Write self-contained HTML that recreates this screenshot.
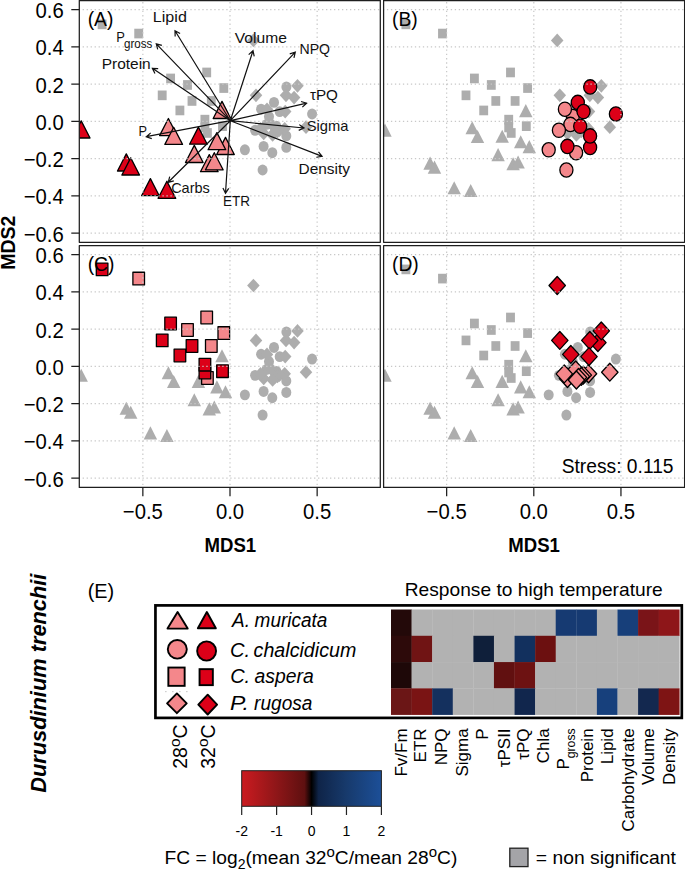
<!DOCTYPE html><html><head><meta charset="utf-8"><style>html,body{margin:0;padding:0;background:#fff;overflow:hidden;width:685px;height:871px;}svg{display:block;}text{font-family:"Liberation Sans",sans-serif;}</style></head><body>
<svg width="685" height="871" viewBox="0 0 685 871">
<defs>
<clipPath id="cA"><rect x="79.30" y="0.50" width="301.00" height="241.80"/></clipPath>
<clipPath id="cB"><rect x="383.60" y="0.50" width="301.00" height="241.80"/></clipPath>
<clipPath id="cC"><rect x="79.30" y="245.60" width="301.00" height="241.80"/></clipPath>
<clipPath id="cD"><rect x="383.60" y="245.60" width="301.00" height="241.80"/></clipPath>
</defs>
<g clip-path="url(#cA)">
<rect x="166.17" y="73.62" width="8.86" height="9.66" fill="#ADADAD"/>
<rect x="202.27" y="67.62" width="8.86" height="9.66" fill="#ADADAD"/>
<rect x="183.07" y="80.12" width="8.86" height="9.66" fill="#ADADAD"/>
<rect x="219.37" y="83.22" width="8.86" height="9.66" fill="#ADADAD"/>
<rect x="157.77" y="90.52" width="8.86" height="9.66" fill="#ADADAD"/>
<rect x="187.57" y="96.12" width="8.86" height="9.66" fill="#ADADAD"/>
<rect x="206.87" y="96.12" width="8.86" height="9.66" fill="#ADADAD"/>
<rect x="175.47" y="105.62" width="8.86" height="9.66" fill="#ADADAD"/>
<rect x="202.97" y="128.12" width="8.86" height="9.66" fill="#ADADAD"/>
<rect x="200.47" y="122.62" width="8.86" height="9.66" fill="#ADADAD"/>
<rect x="200.47" y="114.82" width="8.86" height="9.66" fill="#ADADAD"/>
<rect x="218.07" y="121.32" width="8.86" height="9.66" fill="#ADADAD"/>
<rect x="134.27" y="28.72" width="8.86" height="9.66" fill="#ADADAD"/>
<rect x="97.67" y="19.52" width="8.86" height="9.66" fill="#ADADAD"/>
<ellipse cx="269.00" cy="116.50" rx="5.00" ry="5.45" fill="#ADADAD"/>
<ellipse cx="286.40" cy="86.90" rx="5.00" ry="5.45" fill="#ADADAD"/>
<ellipse cx="274.00" cy="102.40" rx="5.00" ry="5.45" fill="#ADADAD"/>
<ellipse cx="261.10" cy="109.20" rx="5.00" ry="5.45" fill="#ADADAD"/>
<ellipse cx="279.70" cy="111.60" rx="5.00" ry="5.45" fill="#ADADAD"/>
<ellipse cx="266.60" cy="124.40" rx="5.00" ry="5.45" fill="#ADADAD"/>
<ellipse cx="276.40" cy="126.30" rx="5.00" ry="5.45" fill="#ADADAD"/>
<ellipse cx="255.10" cy="130.30" rx="5.00" ry="5.45" fill="#ADADAD"/>
<ellipse cx="286.30" cy="147.40" rx="5.00" ry="5.45" fill="#ADADAD"/>
<ellipse cx="286.30" cy="135.90" rx="5.00" ry="5.45" fill="#ADADAD"/>
<ellipse cx="312.10" cy="114.00" rx="5.00" ry="5.45" fill="#ADADAD"/>
<ellipse cx="263.60" cy="146.40" rx="5.00" ry="5.45" fill="#ADADAD"/>
<ellipse cx="272.30" cy="152.70" rx="5.00" ry="5.45" fill="#ADADAD"/>
<ellipse cx="244.90" cy="149.80" rx="5.00" ry="5.45" fill="#ADADAD"/>
<ellipse cx="262.60" cy="170.00" rx="5.00" ry="5.45" fill="#ADADAD"/>
<path d="M294.10 90.72L300.37 97.55L294.10 104.38L287.83 97.55Z" fill="#ADADAD"/>
<path d="M253.40 33.62L259.67 40.45L253.40 47.28L247.13 40.45Z" fill="#ADADAD"/>
<path d="M297.50 79.02L303.77 85.85L297.50 92.68L291.23 85.85Z" fill="#ADADAD"/>
<path d="M286.00 88.52L292.27 95.35L286.00 102.18L279.73 95.35Z" fill="#ADADAD"/>
<path d="M256.00 88.52L262.27 95.35L256.00 102.18L249.73 95.35Z" fill="#ADADAD"/>
<path d="M267.00 102.52L273.27 109.35L267.00 116.18L260.73 109.35Z" fill="#ADADAD"/>
<path d="M285.20 104.72L291.47 111.55L285.20 118.38L278.93 111.55Z" fill="#ADADAD"/>
<path d="M271.90 118.02L278.17 124.85L271.90 131.68L265.63 124.85Z" fill="#ADADAD"/>
<path d="M284.70 121.92L290.97 128.75L284.70 135.58L278.43 128.75Z" fill="#ADADAD"/>
<path d="M263.70 126.62L269.97 133.45L263.70 140.28L257.43 133.45Z" fill="#ADADAD"/>
<path d="M260.50 122.02L266.77 128.85L260.50 135.68L254.23 128.85Z" fill="#ADADAD"/>
<path d="M279.50 123.22L285.77 130.05L279.50 136.88L273.23 130.05Z" fill="#ADADAD"/>
<path d="M277.50 124.52L283.77 131.35L277.50 138.18L271.23 131.35Z" fill="#ADADAD"/>
<path d="M274.70 125.52L280.97 132.35L274.70 139.18L268.43 132.35Z" fill="#ADADAD"/>
<path d="M272.60 128.12L278.87 134.95L272.60 141.78L266.33 134.95Z" fill="#ADADAD"/>
<path d="M306.00 120.32L312.27 127.15L306.00 133.98L299.73 127.15Z" fill="#ADADAD"/>
<path d="M168.40 118.49L177.22 135.60L159.58 135.60Z" fill="#F4878B" stroke="#000" stroke-width="1.3" stroke-linejoin="round"/>
<path d="M173.70 127.29L182.52 144.40L164.88 144.40Z" fill="#F4878B" stroke="#000" stroke-width="1.3" stroke-linejoin="round"/>
<path d="M225.50 137.39L234.32 154.50L216.68 154.50Z" fill="#F4878B" stroke="#000" stroke-width="1.3" stroke-linejoin="round"/>
<path d="M216.90 132.59L225.72 149.70L208.08 149.70Z" fill="#F4878B" stroke="#000" stroke-width="1.3" stroke-linejoin="round"/>
<path d="M194.30 145.39L203.12 162.50L185.48 162.50Z" fill="#F4878B" stroke="#000" stroke-width="1.3" stroke-linejoin="round"/>
<path d="M209.30 154.59L218.12 171.70L200.48 171.70Z" fill="#F4878B" stroke="#000" stroke-width="1.3" stroke-linejoin="round"/>
<path d="M214.30 152.69L223.12 169.80L205.48 169.80Z" fill="#F4878B" stroke="#000" stroke-width="1.3" stroke-linejoin="round"/>
<path d="M222.00 101.39L230.82 118.50L213.18 118.50Z" fill="#F4878B" stroke="#000" stroke-width="1.3" stroke-linejoin="round"/>
<path d="M81.20 120.89L90.02 138.00L72.38 138.00Z" fill="#DC0018" stroke="#000" stroke-width="1.3" stroke-linejoin="round"/>
<path d="M126.30 153.89L135.12 171.00L117.48 171.00Z" fill="#DC0018" stroke="#000" stroke-width="1.3" stroke-linejoin="round"/>
<path d="M130.70 157.89L139.52 175.00L121.88 175.00Z" fill="#DC0018" stroke="#000" stroke-width="1.3" stroke-linejoin="round"/>
<path d="M150.40 178.59L159.22 195.70L141.58 195.70Z" fill="#DC0018" stroke="#000" stroke-width="1.3" stroke-linejoin="round"/>
<path d="M166.90 181.19L175.72 198.30L158.08 198.30Z" fill="#DC0018" stroke="#000" stroke-width="1.3" stroke-linejoin="round"/>
<path d="M198.40 127.09L207.22 144.20L189.58 144.20Z" fill="#DC0018" stroke="#000" stroke-width="1.3" stroke-linejoin="round"/>
<path d="M79.30 233.17H380.30M79.30 195.90H380.30M79.30 158.63H380.30M79.30 121.36H380.30M79.30 84.09H380.30M79.30 46.82H380.30M79.30 9.55H380.30" stroke="#C8C8C8" stroke-width="1.2" stroke-dasharray="1.3 2.69" stroke-dashoffset="0.65" fill="none"/>
<path d="M142.85 242.30V0.50M230.00 242.30V0.50M317.15 242.30V0.50" stroke="#C8C8C8" stroke-width="1.2" stroke-dasharray="1.4 2.9" stroke-dashoffset="2.0" fill="none"/>
</g>
<rect x="79.30" y="0.50" width="301.00" height="241.80" fill="none" stroke="#1e1e1e" stroke-width="1.25" stroke-linejoin="round"/>
<g clip-path="url(#cB)">
<rect x="469.97" y="73.62" width="8.86" height="9.66" fill="#ADADAD"/>
<rect x="506.07" y="67.62" width="8.86" height="9.66" fill="#ADADAD"/>
<rect x="486.87" y="80.12" width="8.86" height="9.66" fill="#ADADAD"/>
<rect x="523.17" y="83.22" width="8.86" height="9.66" fill="#ADADAD"/>
<rect x="461.57" y="90.52" width="8.86" height="9.66" fill="#ADADAD"/>
<rect x="491.37" y="96.12" width="8.86" height="9.66" fill="#ADADAD"/>
<rect x="510.67" y="96.12" width="8.86" height="9.66" fill="#ADADAD"/>
<rect x="479.27" y="105.62" width="8.86" height="9.66" fill="#ADADAD"/>
<rect x="506.77" y="128.12" width="8.86" height="9.66" fill="#ADADAD"/>
<rect x="504.27" y="122.62" width="8.86" height="9.66" fill="#ADADAD"/>
<rect x="504.27" y="114.82" width="8.86" height="9.66" fill="#ADADAD"/>
<rect x="521.87" y="121.32" width="8.86" height="9.66" fill="#ADADAD"/>
<rect x="438.07" y="28.72" width="8.86" height="9.66" fill="#ADADAD"/>
<rect x="401.47" y="19.52" width="8.86" height="9.66" fill="#ADADAD"/>
<path d="M597.90 90.72L604.17 97.55L597.90 104.38L591.63 97.55Z" fill="#ADADAD"/>
<path d="M557.20 33.62L563.47 40.45L557.20 47.28L550.93 40.45Z" fill="#ADADAD"/>
<path d="M601.30 79.02L607.57 85.85L601.30 92.68L595.03 85.85Z" fill="#ADADAD"/>
<path d="M589.80 88.52L596.07 95.35L589.80 102.18L583.53 95.35Z" fill="#ADADAD"/>
<path d="M559.80 88.52L566.07 95.35L559.80 102.18L553.53 95.35Z" fill="#ADADAD"/>
<path d="M570.80 102.52L577.07 109.35L570.80 116.18L564.53 109.35Z" fill="#ADADAD"/>
<path d="M589.00 104.72L595.27 111.55L589.00 118.38L582.73 111.55Z" fill="#ADADAD"/>
<path d="M575.70 118.02L581.97 124.85L575.70 131.68L569.43 124.85Z" fill="#ADADAD"/>
<path d="M588.50 121.92L594.77 128.75L588.50 135.58L582.23 128.75Z" fill="#ADADAD"/>
<path d="M567.50 126.62L573.77 133.45L567.50 140.28L561.23 133.45Z" fill="#ADADAD"/>
<path d="M564.30 122.02L570.57 128.85L564.30 135.68L558.03 128.85Z" fill="#ADADAD"/>
<path d="M583.30 123.22L589.57 130.05L583.30 136.88L577.03 130.05Z" fill="#ADADAD"/>
<path d="M581.30 124.52L587.57 131.35L581.30 138.18L575.03 131.35Z" fill="#ADADAD"/>
<path d="M578.50 125.52L584.77 132.35L578.50 139.18L572.23 132.35Z" fill="#ADADAD"/>
<path d="M576.40 128.12L582.67 134.95L576.40 141.78L570.13 134.95Z" fill="#ADADAD"/>
<path d="M609.80 120.32L616.07 127.15L609.80 133.98L603.53 127.15Z" fill="#ADADAD"/>
<path d="M385.00 123.59L391.73 136.65L378.27 136.65Z" fill="#ADADAD"/>
<path d="M430.10 156.59L436.83 169.65L423.37 169.65Z" fill="#ADADAD"/>
<path d="M434.50 160.59L441.23 173.65L427.77 173.65Z" fill="#ADADAD"/>
<path d="M454.20 181.29L460.93 194.35L447.47 194.35Z" fill="#ADADAD"/>
<path d="M470.70 183.89L477.43 196.95L463.97 196.95Z" fill="#ADADAD"/>
<path d="M472.20 121.19L478.93 134.25L465.47 134.25Z" fill="#ADADAD"/>
<path d="M477.50 129.99L484.23 143.05L470.77 143.05Z" fill="#ADADAD"/>
<path d="M502.20 129.79L508.93 142.85L495.47 142.85Z" fill="#ADADAD"/>
<path d="M529.30 140.09L536.03 153.15L522.57 153.15Z" fill="#ADADAD"/>
<path d="M520.70 135.29L527.43 148.35L513.97 148.35Z" fill="#ADADAD"/>
<path d="M498.10 148.09L504.83 161.15L491.37 161.15Z" fill="#ADADAD"/>
<path d="M513.10 157.29L519.83 170.35L506.37 170.35Z" fill="#ADADAD"/>
<path d="M518.10 155.39L524.83 168.45L511.37 168.45Z" fill="#ADADAD"/>
<path d="M525.80 104.09L532.53 117.15L519.07 117.15Z" fill="#ADADAD"/>
<ellipse cx="572.80" cy="116.50" rx="6.55" ry="7.14" fill="#F4878B" stroke="#000" stroke-width="1.3" stroke-linejoin="round"/>
<ellipse cx="564.90" cy="109.20" rx="6.55" ry="7.14" fill="#F4878B" stroke="#000" stroke-width="1.3" stroke-linejoin="round"/>
<ellipse cx="570.40" cy="124.40" rx="6.55" ry="7.14" fill="#F4878B" stroke="#000" stroke-width="1.3" stroke-linejoin="round"/>
<ellipse cx="558.90" cy="130.30" rx="6.55" ry="7.14" fill="#F4878B" stroke="#000" stroke-width="1.3" stroke-linejoin="round"/>
<ellipse cx="576.10" cy="152.70" rx="6.55" ry="7.14" fill="#F4878B" stroke="#000" stroke-width="1.3" stroke-linejoin="round"/>
<ellipse cx="548.70" cy="149.80" rx="6.55" ry="7.14" fill="#F4878B" stroke="#000" stroke-width="1.3" stroke-linejoin="round"/>
<ellipse cx="566.40" cy="170.00" rx="6.55" ry="7.14" fill="#F4878B" stroke="#000" stroke-width="1.3" stroke-linejoin="round"/>
<ellipse cx="590.20" cy="86.90" rx="6.55" ry="7.14" fill="#DC0018" stroke="#000" stroke-width="1.3" stroke-linejoin="round"/>
<ellipse cx="577.80" cy="102.40" rx="6.55" ry="7.14" fill="#DC0018" stroke="#000" stroke-width="1.3" stroke-linejoin="round"/>
<ellipse cx="583.50" cy="111.60" rx="6.55" ry="7.14" fill="#DC0018" stroke="#000" stroke-width="1.3" stroke-linejoin="round"/>
<ellipse cx="580.20" cy="126.30" rx="6.55" ry="7.14" fill="#DC0018" stroke="#000" stroke-width="1.3" stroke-linejoin="round"/>
<ellipse cx="590.10" cy="147.40" rx="6.55" ry="7.14" fill="#DC0018" stroke="#000" stroke-width="1.3" stroke-linejoin="round"/>
<ellipse cx="590.10" cy="135.90" rx="6.55" ry="7.14" fill="#DC0018" stroke="#000" stroke-width="1.3" stroke-linejoin="round"/>
<ellipse cx="615.90" cy="114.00" rx="6.55" ry="7.14" fill="#DC0018" stroke="#000" stroke-width="1.3" stroke-linejoin="round"/>
<ellipse cx="567.40" cy="146.40" rx="6.55" ry="7.14" fill="#DC0018" stroke="#000" stroke-width="1.3" stroke-linejoin="round"/>
<path d="M383.60 233.17H684.60M383.60 195.90H684.60M383.60 158.63H684.60M383.60 121.36H684.60M383.60 84.09H684.60M383.60 46.82H684.60M383.60 9.55H684.60" stroke="#C8C8C8" stroke-width="1.2" stroke-dasharray="1.3 2.69" stroke-dashoffset="0.65" fill="none"/>
<path d="M446.65 242.30V0.50M533.80 242.30V0.50M620.95 242.30V0.50" stroke="#C8C8C8" stroke-width="1.2" stroke-dasharray="1.4 2.9" stroke-dashoffset="2.0" fill="none"/>
</g>
<rect x="383.60" y="0.50" width="301.00" height="241.80" fill="none" stroke="#1e1e1e" stroke-width="1.25" stroke-linejoin="round"/>
<g clip-path="url(#cC)">
<ellipse cx="269.00" cy="361.55" rx="5.00" ry="5.45" fill="#ADADAD"/>
<ellipse cx="286.40" cy="331.95" rx="5.00" ry="5.45" fill="#ADADAD"/>
<ellipse cx="274.00" cy="347.45" rx="5.00" ry="5.45" fill="#ADADAD"/>
<ellipse cx="261.10" cy="354.25" rx="5.00" ry="5.45" fill="#ADADAD"/>
<ellipse cx="279.70" cy="356.65" rx="5.00" ry="5.45" fill="#ADADAD"/>
<ellipse cx="266.60" cy="369.45" rx="5.00" ry="5.45" fill="#ADADAD"/>
<ellipse cx="276.40" cy="371.35" rx="5.00" ry="5.45" fill="#ADADAD"/>
<ellipse cx="255.10" cy="375.35" rx="5.00" ry="5.45" fill="#ADADAD"/>
<ellipse cx="286.30" cy="392.45" rx="5.00" ry="5.45" fill="#ADADAD"/>
<ellipse cx="286.30" cy="380.95" rx="5.00" ry="5.45" fill="#ADADAD"/>
<ellipse cx="312.10" cy="359.05" rx="5.00" ry="5.45" fill="#ADADAD"/>
<ellipse cx="263.60" cy="391.45" rx="5.00" ry="5.45" fill="#ADADAD"/>
<ellipse cx="272.30" cy="397.75" rx="5.00" ry="5.45" fill="#ADADAD"/>
<ellipse cx="244.90" cy="394.85" rx="5.00" ry="5.45" fill="#ADADAD"/>
<ellipse cx="262.60" cy="415.05" rx="5.00" ry="5.45" fill="#ADADAD"/>
<path d="M294.10 335.77L300.37 342.60L294.10 349.43L287.83 342.60Z" fill="#ADADAD"/>
<path d="M253.40 278.67L259.67 285.50L253.40 292.33L247.13 285.50Z" fill="#ADADAD"/>
<path d="M297.50 324.07L303.77 330.90L297.50 337.73L291.23 330.90Z" fill="#ADADAD"/>
<path d="M286.00 333.57L292.27 340.40L286.00 347.23L279.73 340.40Z" fill="#ADADAD"/>
<path d="M256.00 333.57L262.27 340.40L256.00 347.23L249.73 340.40Z" fill="#ADADAD"/>
<path d="M267.00 347.57L273.27 354.40L267.00 361.23L260.73 354.40Z" fill="#ADADAD"/>
<path d="M285.20 349.77L291.47 356.60L285.20 363.43L278.93 356.60Z" fill="#ADADAD"/>
<path d="M271.90 363.07L278.17 369.90L271.90 376.73L265.63 369.90Z" fill="#ADADAD"/>
<path d="M284.70 366.97L290.97 373.80L284.70 380.63L278.43 373.80Z" fill="#ADADAD"/>
<path d="M263.70 371.67L269.97 378.50L263.70 385.33L257.43 378.50Z" fill="#ADADAD"/>
<path d="M260.50 367.07L266.77 373.90L260.50 380.73L254.23 373.90Z" fill="#ADADAD"/>
<path d="M279.50 368.27L285.77 375.10L279.50 381.93L273.23 375.10Z" fill="#ADADAD"/>
<path d="M277.50 369.57L283.77 376.40L277.50 383.23L271.23 376.40Z" fill="#ADADAD"/>
<path d="M274.70 370.57L280.97 377.40L274.70 384.23L268.43 377.40Z" fill="#ADADAD"/>
<path d="M272.60 373.17L278.87 380.00L272.60 386.83L266.33 380.00Z" fill="#ADADAD"/>
<path d="M306.00 365.37L312.27 372.20L306.00 379.03L299.73 372.20Z" fill="#ADADAD"/>
<path d="M81.20 368.64L87.93 381.70L74.47 381.70Z" fill="#ADADAD"/>
<path d="M126.30 401.64L133.03 414.70L119.57 414.70Z" fill="#ADADAD"/>
<path d="M130.70 405.64L137.43 418.70L123.97 418.70Z" fill="#ADADAD"/>
<path d="M150.40 426.34L157.13 439.40L143.67 439.40Z" fill="#ADADAD"/>
<path d="M166.90 428.94L173.63 442.00L160.17 442.00Z" fill="#ADADAD"/>
<path d="M168.40 366.24L175.13 379.30L161.67 379.30Z" fill="#ADADAD"/>
<path d="M173.70 375.04L180.43 388.10L166.97 388.10Z" fill="#ADADAD"/>
<path d="M198.40 374.84L205.13 387.90L191.67 387.90Z" fill="#ADADAD"/>
<path d="M225.50 385.14L232.23 398.20L218.77 398.20Z" fill="#ADADAD"/>
<path d="M216.90 380.34L223.63 393.40L210.17 393.40Z" fill="#ADADAD"/>
<path d="M194.30 393.14L201.03 406.20L187.57 406.20Z" fill="#ADADAD"/>
<path d="M209.30 402.34L216.03 415.40L202.57 415.40Z" fill="#ADADAD"/>
<path d="M214.30 400.44L221.03 413.50L207.57 413.50Z" fill="#ADADAD"/>
<path d="M222.00 349.14L228.73 362.20L215.27 362.20Z" fill="#ADADAD"/>
<rect x="200.90" y="311.17" width="11.61" height="12.65" fill="#F4878B" stroke="#000" stroke-width="1.3" stroke-linejoin="round"/>
<rect x="181.70" y="323.67" width="11.61" height="12.65" fill="#F4878B" stroke="#000" stroke-width="1.3" stroke-linejoin="round"/>
<rect x="218.00" y="326.77" width="11.61" height="12.65" fill="#F4878B" stroke="#000" stroke-width="1.3" stroke-linejoin="round"/>
<rect x="205.50" y="339.67" width="11.61" height="12.65" fill="#F4878B" stroke="#000" stroke-width="1.3" stroke-linejoin="round"/>
<rect x="201.60" y="371.67" width="11.61" height="12.65" fill="#F4878B" stroke="#000" stroke-width="1.3" stroke-linejoin="round"/>
<rect x="132.90" y="272.27" width="11.61" height="12.65" fill="#F4878B" stroke="#000" stroke-width="1.3" stroke-linejoin="round"/>
<rect x="164.80" y="317.17" width="11.61" height="12.65" fill="#DC0018" stroke="#000" stroke-width="1.3" stroke-linejoin="round"/>
<rect x="156.40" y="334.07" width="11.61" height="12.65" fill="#DC0018" stroke="#000" stroke-width="1.3" stroke-linejoin="round"/>
<rect x="186.20" y="339.67" width="11.61" height="12.65" fill="#DC0018" stroke="#000" stroke-width="1.3" stroke-linejoin="round"/>
<rect x="174.10" y="349.17" width="11.61" height="12.65" fill="#DC0018" stroke="#000" stroke-width="1.3" stroke-linejoin="round"/>
<rect x="199.10" y="366.17" width="11.61" height="12.65" fill="#DC0018" stroke="#000" stroke-width="1.3" stroke-linejoin="round"/>
<rect x="199.10" y="358.37" width="11.61" height="12.65" fill="#DC0018" stroke="#000" stroke-width="1.3" stroke-linejoin="round"/>
<rect x="216.70" y="364.87" width="11.61" height="12.65" fill="#DC0018" stroke="#000" stroke-width="1.3" stroke-linejoin="round"/>
<rect x="96.30" y="263.07" width="11.61" height="12.65" fill="#DC0018" stroke="#000" stroke-width="1.3" stroke-linejoin="round"/>
<path d="M79.30 478.22H380.30M79.30 440.95H380.30M79.30 403.68H380.30M79.30 366.41H380.30M79.30 329.14H380.30M79.30 291.87H380.30M79.30 254.60H380.30" stroke="#C8C8C8" stroke-width="1.2" stroke-dasharray="1.3 2.69" stroke-dashoffset="0.65" fill="none"/>
<path d="M142.85 487.40V245.60M230.00 487.40V245.60M317.15 487.40V245.60" stroke="#C8C8C8" stroke-width="1.2" stroke-dasharray="1.4 2.9" stroke-dashoffset="2.0" fill="none"/>
</g>
<rect x="79.30" y="245.60" width="301.00" height="241.80" fill="none" stroke="#1e1e1e" stroke-width="1.25" stroke-linejoin="round"/>
<g clip-path="url(#cD)">
<rect x="469.97" y="318.67" width="8.86" height="9.66" fill="#ADADAD"/>
<rect x="506.07" y="312.67" width="8.86" height="9.66" fill="#ADADAD"/>
<rect x="486.87" y="325.17" width="8.86" height="9.66" fill="#ADADAD"/>
<rect x="523.17" y="328.27" width="8.86" height="9.66" fill="#ADADAD"/>
<rect x="461.57" y="335.57" width="8.86" height="9.66" fill="#ADADAD"/>
<rect x="491.37" y="341.17" width="8.86" height="9.66" fill="#ADADAD"/>
<rect x="510.67" y="341.17" width="8.86" height="9.66" fill="#ADADAD"/>
<rect x="479.27" y="350.67" width="8.86" height="9.66" fill="#ADADAD"/>
<rect x="506.77" y="373.17" width="8.86" height="9.66" fill="#ADADAD"/>
<rect x="504.27" y="367.67" width="8.86" height="9.66" fill="#ADADAD"/>
<rect x="504.27" y="359.87" width="8.86" height="9.66" fill="#ADADAD"/>
<rect x="521.87" y="366.37" width="8.86" height="9.66" fill="#ADADAD"/>
<rect x="438.07" y="273.77" width="8.86" height="9.66" fill="#ADADAD"/>
<rect x="401.47" y="264.57" width="8.86" height="9.66" fill="#ADADAD"/>
<ellipse cx="572.80" cy="361.55" rx="5.00" ry="5.45" fill="#ADADAD"/>
<ellipse cx="590.20" cy="331.95" rx="5.00" ry="5.45" fill="#ADADAD"/>
<ellipse cx="577.80" cy="347.45" rx="5.00" ry="5.45" fill="#ADADAD"/>
<ellipse cx="564.90" cy="354.25" rx="5.00" ry="5.45" fill="#ADADAD"/>
<ellipse cx="583.50" cy="356.65" rx="5.00" ry="5.45" fill="#ADADAD"/>
<ellipse cx="570.40" cy="369.45" rx="5.00" ry="5.45" fill="#ADADAD"/>
<ellipse cx="580.20" cy="371.35" rx="5.00" ry="5.45" fill="#ADADAD"/>
<ellipse cx="558.90" cy="375.35" rx="5.00" ry="5.45" fill="#ADADAD"/>
<ellipse cx="590.10" cy="392.45" rx="5.00" ry="5.45" fill="#ADADAD"/>
<ellipse cx="590.10" cy="380.95" rx="5.00" ry="5.45" fill="#ADADAD"/>
<ellipse cx="615.90" cy="359.05" rx="5.00" ry="5.45" fill="#ADADAD"/>
<ellipse cx="567.40" cy="391.45" rx="5.00" ry="5.45" fill="#ADADAD"/>
<ellipse cx="576.10" cy="397.75" rx="5.00" ry="5.45" fill="#ADADAD"/>
<ellipse cx="548.70" cy="394.85" rx="5.00" ry="5.45" fill="#ADADAD"/>
<ellipse cx="566.40" cy="415.05" rx="5.00" ry="5.45" fill="#ADADAD"/>
<path d="M385.00 368.64L391.73 381.70L378.27 381.70Z" fill="#ADADAD"/>
<path d="M430.10 401.64L436.83 414.70L423.37 414.70Z" fill="#ADADAD"/>
<path d="M434.50 405.64L441.23 418.70L427.77 418.70Z" fill="#ADADAD"/>
<path d="M454.20 426.34L460.93 439.40L447.47 439.40Z" fill="#ADADAD"/>
<path d="M470.70 428.94L477.43 442.00L463.97 442.00Z" fill="#ADADAD"/>
<path d="M472.20 366.24L478.93 379.30L465.47 379.30Z" fill="#ADADAD"/>
<path d="M477.50 375.04L484.23 388.10L470.77 388.10Z" fill="#ADADAD"/>
<path d="M502.20 374.84L508.93 387.90L495.47 387.90Z" fill="#ADADAD"/>
<path d="M529.30 385.14L536.03 398.20L522.57 398.20Z" fill="#ADADAD"/>
<path d="M520.70 380.34L527.43 393.40L513.97 393.40Z" fill="#ADADAD"/>
<path d="M498.10 393.14L504.83 406.20L491.37 406.20Z" fill="#ADADAD"/>
<path d="M513.10 402.34L519.83 415.40L506.37 415.40Z" fill="#ADADAD"/>
<path d="M518.10 400.44L524.83 413.50L511.37 413.50Z" fill="#ADADAD"/>
<path d="M525.80 349.14L532.53 362.20L519.07 362.20Z" fill="#ADADAD"/>
<path d="M575.70 360.95L583.91 369.90L575.70 378.85L567.49 369.90Z" fill="#F4878B" stroke="#000" stroke-width="1.3" stroke-linejoin="round"/>
<path d="M588.50 364.85L596.71 373.80L588.50 382.75L580.29 373.80Z" fill="#F4878B" stroke="#000" stroke-width="1.3" stroke-linejoin="round"/>
<path d="M567.50 369.55L575.71 378.50L567.50 387.45L559.29 378.50Z" fill="#F4878B" stroke="#000" stroke-width="1.3" stroke-linejoin="round"/>
<path d="M564.30 364.95L572.51 373.90L564.30 382.85L556.09 373.90Z" fill="#F4878B" stroke="#000" stroke-width="1.3" stroke-linejoin="round"/>
<path d="M583.30 366.15L591.51 375.10L583.30 384.05L575.09 375.10Z" fill="#F4878B" stroke="#000" stroke-width="1.3" stroke-linejoin="round"/>
<path d="M581.30 367.45L589.51 376.40L581.30 385.35L573.09 376.40Z" fill="#F4878B" stroke="#000" stroke-width="1.3" stroke-linejoin="round"/>
<path d="M578.50 368.45L586.71 377.40L578.50 386.35L570.29 377.40Z" fill="#F4878B" stroke="#000" stroke-width="1.3" stroke-linejoin="round"/>
<path d="M576.40 371.05L584.61 380.00L576.40 388.95L568.19 380.00Z" fill="#F4878B" stroke="#000" stroke-width="1.3" stroke-linejoin="round"/>
<path d="M609.80 363.25L618.01 372.20L609.80 381.15L601.59 372.20Z" fill="#F4878B" stroke="#000" stroke-width="1.3" stroke-linejoin="round"/>
<path d="M597.90 333.65L606.11 342.60L597.90 351.55L589.69 342.60Z" fill="#DC0018" stroke="#000" stroke-width="1.3" stroke-linejoin="round"/>
<path d="M557.20 276.55L565.41 285.50L557.20 294.45L548.99 285.50Z" fill="#DC0018" stroke="#000" stroke-width="1.3" stroke-linejoin="round"/>
<path d="M601.30 321.95L609.51 330.90L601.30 339.85L593.09 330.90Z" fill="#DC0018" stroke="#000" stroke-width="1.3" stroke-linejoin="round"/>
<path d="M589.80 331.45L598.01 340.40L589.80 349.35L581.59 340.40Z" fill="#DC0018" stroke="#000" stroke-width="1.3" stroke-linejoin="round"/>
<path d="M559.80 331.45L568.01 340.40L559.80 349.35L551.59 340.40Z" fill="#DC0018" stroke="#000" stroke-width="1.3" stroke-linejoin="round"/>
<path d="M570.80 345.45L579.01 354.40L570.80 363.35L562.59 354.40Z" fill="#DC0018" stroke="#000" stroke-width="1.3" stroke-linejoin="round"/>
<path d="M589.00 347.65L597.21 356.60L589.00 365.55L580.79 356.60Z" fill="#DC0018" stroke="#000" stroke-width="1.3" stroke-linejoin="round"/>
<path d="M383.60 478.22H684.60M383.60 440.95H684.60M383.60 403.68H684.60M383.60 366.41H684.60M383.60 329.14H684.60M383.60 291.87H684.60M383.60 254.60H684.60" stroke="#C8C8C8" stroke-width="1.2" stroke-dasharray="1.3 2.69" stroke-dashoffset="0.65" fill="none"/>
<path d="M446.65 487.40V245.60M533.80 487.40V245.60M620.95 487.40V245.60" stroke="#C8C8C8" stroke-width="1.2" stroke-dasharray="1.4 2.9" stroke-dashoffset="2.0" fill="none"/>
</g>
<rect x="383.60" y="245.60" width="301.00" height="241.80" fill="none" stroke="#1e1e1e" stroke-width="1.25" stroke-linejoin="round"/>
<path d="M230.30 120.70L175.00 30.70M180.10 33.46L175.00 30.70L175.16 36.50M230.30 120.70L156.30 43.80M161.87 45.41L156.30 43.80L157.69 49.43M230.30 120.70L152.40 68.30M158.19 68.70L152.40 68.30L154.95 73.51M230.30 120.70L253.00 50.70M254.21 56.37L253.00 50.70L248.69 54.58M230.30 120.70L295.30 52.20M293.95 57.84L295.30 52.20L289.74 53.85M230.30 120.70L306.60 103.20M302.35 107.15L306.60 103.20L301.06 101.50M230.30 120.70L304.00 128.00M298.72 130.39L304.00 128.00L299.29 124.62M230.30 120.70L322.10 156.40M316.37 157.28L322.10 156.40L318.47 151.88M230.30 120.70L225.50 193.20M222.94 188.00L225.50 193.20L228.73 188.38M230.30 120.70L168.20 182.30M169.72 176.70L168.20 182.30L173.81 180.82M230.30 120.70L146.30 136.70M150.69 132.91L146.30 136.70L151.78 138.61" stroke="#111" stroke-width="1.2" fill="none" stroke-linejoin="miter"/>
<text x="152.83" y="21.8" font-size="15" textLength="34.03" lengthAdjust="spacingAndGlyphs" fill="#111">Lipid</text>
<text x="116.24" y="42.4" font-size="15" textLength="8.64" lengthAdjust="spacingAndGlyphs" fill="#111">P</text>
<text x="124.06" y="47.9" font-size="12.3" textLength="28.31" lengthAdjust="spacingAndGlyphs" fill="#111">gross</text>
<text x="101.67" y="69.1" font-size="15" textLength="49.08" lengthAdjust="spacingAndGlyphs" fill="#111">Protein</text>
<text x="234.80" y="42.6" font-size="15" textLength="52.15" lengthAdjust="spacingAndGlyphs" fill="#111">Volume</text>
<text x="299.56" y="53.5" font-size="15" textLength="30.52" lengthAdjust="spacingAndGlyphs" fill="#111">NPQ</text>
<text x="309.90" y="99.9" font-size="15" textLength="28.02" lengthAdjust="spacingAndGlyphs" fill="#111">τPQ</text>
<text x="306.72" y="131.1" font-size="15" textLength="41.72" lengthAdjust="spacingAndGlyphs" fill="#111">Sigma</text>
<text x="298.57" y="173.8" font-size="15" textLength="51.46" lengthAdjust="spacingAndGlyphs" fill="#111">Density</text>
<text x="223.10" y="205.7" font-size="15" textLength="27.00" lengthAdjust="spacingAndGlyphs" fill="#111">ETR</text>
<text x="171.13" y="192.8" font-size="15" textLength="38.68" lengthAdjust="spacingAndGlyphs" fill="#111">Carbs</text>
<text x="138.45" y="135.8" font-size="15" textLength="8.51" lengthAdjust="spacingAndGlyphs" fill="#111">P</text>
<text transform="translate(87.70 25.80) scale(1 1.06)" font-size="19.3" fill="#000">(A)</text>
<text transform="translate(392.00 25.80) scale(1 1.06)" font-size="19.3" fill="#000">(B)</text>
<text transform="translate(87.70 270.90) scale(1 1.06)" font-size="19.3" fill="#000">(C)</text>
<text transform="translate(392.00 270.90) scale(1 1.06)" font-size="19.3" fill="#000">(D)</text>
<text transform="translate(561.71 472.8) scale(1 1.05)" font-size="19.5" textLength="111.83" lengthAdjust="spacingAndGlyphs" fill="#000">Stress: 0.115</text>
<text transform="translate(63.7 241.62) scale(1 1.08)" font-size="20.3" text-anchor="end" fill="#000">−0.6</text>
<text transform="translate(63.7 204.35) scale(1 1.08)" font-size="20.3" text-anchor="end" fill="#000">−0.4</text>
<text transform="translate(63.7 167.08) scale(1 1.08)" font-size="20.3" text-anchor="end" fill="#000">−0.2</text>
<text transform="translate(63.7 129.81) scale(1 1.08)" font-size="20.3" text-anchor="end" fill="#000">0.0</text>
<text transform="translate(63.7 92.54) scale(1 1.08)" font-size="20.3" text-anchor="end" fill="#000">0.2</text>
<text transform="translate(63.7 55.27) scale(1 1.08)" font-size="20.3" text-anchor="end" fill="#000">0.4</text>
<text transform="translate(63.7 18.00) scale(1 1.08)" font-size="20.3" text-anchor="end" fill="#000">0.6</text>
<text transform="translate(63.7 486.67) scale(1 1.08)" font-size="20.3" text-anchor="end" fill="#000">−0.6</text>
<text transform="translate(63.7 449.40) scale(1 1.08)" font-size="20.3" text-anchor="end" fill="#000">−0.4</text>
<text transform="translate(63.7 412.13) scale(1 1.08)" font-size="20.3" text-anchor="end" fill="#000">−0.2</text>
<text transform="translate(63.7 374.86) scale(1 1.08)" font-size="20.3" text-anchor="end" fill="#000">0.0</text>
<text transform="translate(63.7 337.59) scale(1 1.08)" font-size="20.3" text-anchor="end" fill="#000">0.2</text>
<text transform="translate(63.7 300.32) scale(1 1.08)" font-size="20.3" text-anchor="end" fill="#000">0.4</text>
<text transform="translate(63.7 263.05) scale(1 1.08)" font-size="20.3" text-anchor="end" fill="#000">0.6</text>
<text transform="translate(142.85 518.75) scale(1 1.08)" font-size="20.3" text-anchor="middle" fill="#000">−0.5</text>
<text transform="translate(230.00 518.75) scale(1 1.08)" font-size="20.3" text-anchor="middle" fill="#000">0.0</text>
<text transform="translate(317.15 518.75) scale(1 1.08)" font-size="20.3" text-anchor="middle" fill="#000">0.5</text>
<text transform="translate(446.65 518.75) scale(1 1.08)" font-size="20.3" text-anchor="middle" fill="#000">−0.5</text>
<text transform="translate(533.80 518.75) scale(1 1.08)" font-size="20.3" text-anchor="middle" fill="#000">0.0</text>
<text transform="translate(620.95 518.75) scale(1 1.08)" font-size="20.3" text-anchor="middle" fill="#000">0.5</text>
<path d="M71.3 233.17H79.3M71.3 195.90H79.3M71.3 158.63H79.3M71.3 121.36H79.3M71.3 84.09H79.3M71.3 46.82H79.3M71.3 9.55H79.3M71.3 478.22H79.3M71.3 440.95H79.3M71.3 403.68H79.3M71.3 366.41H79.3M71.3 329.14H79.3M71.3 291.87H79.3M71.3 254.60H79.3M142.85 487.40V496.2M230.00 487.40V496.2M317.15 487.40V496.2M446.65 487.40V496.2M533.80 487.40V496.2M620.95 487.40V496.2" stroke="#1e1e1e" stroke-width="1.25" fill="none"/>
<text transform="translate(230.3 552.05) scale(1 1.08)" font-size="18.6" font-weight="bold" text-anchor="middle">MDS1</text>
<text transform="translate(534.1 552.05) scale(1 1.08)" font-size="18.6" font-weight="bold" text-anchor="middle">MDS1</text>
<text transform="translate(15.2 242.7) rotate(-90)" font-size="19.5" font-weight="bold" text-anchor="middle">MDS2</text>
<text x="87.78" y="598.1" font-size="19.5" textLength="26.43" lengthAdjust="spacingAndGlyphs" fill="#000">(E)</text>
<text transform="translate(46.3 683.2) rotate(-90)" font-size="21.8" font-weight="bold" font-style="italic" text-anchor="middle">Durusdinium trenchii</text>
<text x="404.78" y="596.0" font-size="19" textLength="257.93" lengthAdjust="spacingAndGlyphs" fill="#000">Response to high temperature</text>
<rect x="391.00" y="609.50" width="20.89" height="26.58" fill="#230909"/>
<rect x="411.59" y="609.50" width="20.89" height="26.58" fill="#B2B2B2"/>
<rect x="432.18" y="609.50" width="20.89" height="26.58" fill="#B2B2B2"/>
<rect x="452.77" y="609.50" width="20.89" height="26.58" fill="#B2B2B2"/>
<rect x="473.36" y="609.50" width="20.89" height="26.58" fill="#B2B2B2"/>
<rect x="493.95" y="609.50" width="20.89" height="26.58" fill="#B2B2B2"/>
<rect x="514.54" y="609.50" width="20.89" height="26.58" fill="#B2B2B2"/>
<rect x="535.13" y="609.50" width="20.89" height="26.58" fill="#B2B2B2"/>
<rect x="555.72" y="609.50" width="20.89" height="26.58" fill="#163A72"/>
<rect x="576.31" y="609.50" width="20.89" height="26.58" fill="#163A72"/>
<rect x="596.90" y="609.50" width="20.89" height="26.58" fill="#B2B2B2"/>
<rect x="617.49" y="609.50" width="20.89" height="26.58" fill="#173F7A"/>
<rect x="638.08" y="609.50" width="20.89" height="26.58" fill="#7A1418"/>
<rect x="658.67" y="609.50" width="20.89" height="26.58" fill="#8E1619"/>
<rect x="391.00" y="635.78" width="20.89" height="26.58" fill="#2D0A0A"/>
<rect x="411.59" y="635.78" width="20.89" height="26.58" fill="#701414"/>
<rect x="432.18" y="635.78" width="20.89" height="26.58" fill="#B2B2B2"/>
<rect x="452.77" y="635.78" width="20.89" height="26.58" fill="#B2B2B2"/>
<rect x="473.36" y="635.78" width="20.89" height="26.58" fill="#0F1F3A"/>
<rect x="493.95" y="635.78" width="20.89" height="26.58" fill="#B2B2B2"/>
<rect x="514.54" y="635.78" width="20.89" height="26.58" fill="#12305E"/>
<rect x="535.13" y="635.78" width="20.89" height="26.58" fill="#6C1010"/>
<rect x="555.72" y="635.78" width="20.89" height="26.58" fill="#B2B2B2"/>
<rect x="576.31" y="635.78" width="20.89" height="26.58" fill="#B2B2B2"/>
<rect x="596.90" y="635.78" width="20.89" height="26.58" fill="#B2B2B2"/>
<rect x="617.49" y="635.78" width="20.89" height="26.58" fill="#B2B2B2"/>
<rect x="638.08" y="635.78" width="20.89" height="26.58" fill="#B2B2B2"/>
<rect x="658.67" y="635.78" width="20.89" height="26.58" fill="#B2B2B2"/>
<rect x="391.00" y="662.06" width="20.89" height="26.58" fill="#1E0808"/>
<rect x="411.59" y="662.06" width="20.89" height="26.58" fill="#B2B2B2"/>
<rect x="432.18" y="662.06" width="20.89" height="26.58" fill="#B2B2B2"/>
<rect x="452.77" y="662.06" width="20.89" height="26.58" fill="#B2B2B2"/>
<rect x="473.36" y="662.06" width="20.89" height="26.58" fill="#B2B2B2"/>
<rect x="493.95" y="662.06" width="20.89" height="26.58" fill="#611010"/>
<rect x="514.54" y="662.06" width="20.89" height="26.58" fill="#6D1212"/>
<rect x="535.13" y="662.06" width="20.89" height="26.58" fill="#B2B2B2"/>
<rect x="555.72" y="662.06" width="20.89" height="26.58" fill="#B2B2B2"/>
<rect x="576.31" y="662.06" width="20.89" height="26.58" fill="#B2B2B2"/>
<rect x="596.90" y="662.06" width="20.89" height="26.58" fill="#B2B2B2"/>
<rect x="617.49" y="662.06" width="20.89" height="26.58" fill="#B2B2B2"/>
<rect x="638.08" y="662.06" width="20.89" height="26.58" fill="#B2B2B2"/>
<rect x="658.67" y="662.06" width="20.89" height="26.58" fill="#B2B2B2"/>
<rect x="391.00" y="688.34" width="20.89" height="26.58" fill="#6B1616"/>
<rect x="411.59" y="688.34" width="20.89" height="26.58" fill="#7A1414"/>
<rect x="432.18" y="688.34" width="20.89" height="26.58" fill="#14305E"/>
<rect x="452.77" y="688.34" width="20.89" height="26.58" fill="#B2B2B2"/>
<rect x="473.36" y="688.34" width="20.89" height="26.58" fill="#B2B2B2"/>
<rect x="493.95" y="688.34" width="20.89" height="26.58" fill="#B2B2B2"/>
<rect x="514.54" y="688.34" width="20.89" height="26.58" fill="#11264D"/>
<rect x="535.13" y="688.34" width="20.89" height="26.58" fill="#B2B2B2"/>
<rect x="555.72" y="688.34" width="20.89" height="26.58" fill="#B2B2B2"/>
<rect x="576.31" y="688.34" width="20.89" height="26.58" fill="#B2B2B2"/>
<rect x="596.90" y="688.34" width="20.89" height="26.58" fill="#17407C"/>
<rect x="617.49" y="688.34" width="20.89" height="26.58" fill="#B2B2B2"/>
<rect x="638.08" y="688.34" width="20.89" height="26.58" fill="#13284F"/>
<rect x="658.67" y="688.34" width="20.89" height="26.58" fill="#7E1414"/>
<rect x="155.45" y="605.4" width="526.35" height="112.5" fill="none" stroke="#000" stroke-width="2.7"/>
<path d="M177.6 612.0L187.7 628.6L167.5 628.6Z" fill="#F4878B" stroke="#000" stroke-width="1.9" stroke-linejoin="round"/>
<path d="M206.85 612.0L215.85 628.3L197.85 628.3Z" fill="#DC0018" stroke="#000" stroke-width="1.9" stroke-linejoin="round"/>
<ellipse cx="177.3" cy="649.35" rx="9.5" ry="9.3" fill="#F4878B" stroke="#000" stroke-width="1.9"/>
<ellipse cx="206.6" cy="651.0" rx="9.45" ry="9.6" fill="#DC0018" stroke="#000" stroke-width="1.9"/>
<rect x="168.35" y="667.55" width="16.3" height="18.3" fill="#F4878B" stroke="#000" stroke-width="1.9"/>
<rect x="199.55" y="669.15" width="13.3" height="16.0" fill="#DC0018" stroke="#000" stroke-width="1.9"/>
<path d="M176.9 693.4L186.7 703.3L176.9 713.2L167.1 703.3Z" fill="#F4878B" stroke="#000" stroke-width="1.9" stroke-linejoin="round"/>
<path d="M207.7 694.7L217.1 704.6L207.7 714.5L198.3 704.6Z" fill="#DC0018" stroke="#000" stroke-width="1.9" stroke-linejoin="round"/>
<rect x="165.0" y="691.0" width="1.6" height="1.2" fill="#D0D0D0"/>
<rect x="172.0" y="691.0" width="1.6" height="1.2" fill="#D0D0D0"/>
<rect x="179.0" y="691.0" width="1.6" height="1.2" fill="#D0D0D0"/>
<rect x="186.0" y="691.0" width="1.6" height="1.2" fill="#D0D0D0"/>
<text x="232.07" y="627.2" font-size="19.5" font-style="italic" textLength="17.90" lengthAdjust="spacingAndGlyphs" fill="#000">A.</text>
<text x="254.60" y="627.2" font-size="19.5" font-style="italic" textLength="72.76" lengthAdjust="spacingAndGlyphs" fill="#000">muricata</text>
<text x="230.07" y="657.0" font-size="19.5" font-style="italic" textLength="20.11" lengthAdjust="spacingAndGlyphs" fill="#000">C.</text>
<text x="253.59" y="657.0" font-size="19.5" font-style="italic" textLength="102.69" lengthAdjust="spacingAndGlyphs" fill="#000">chalcidicum</text>
<text x="230.17" y="683.0" font-size="19.5" font-style="italic" textLength="19.99" lengthAdjust="spacingAndGlyphs" fill="#000">C.</text>
<text x="254.60" y="683.0" font-size="19.5" font-style="italic" textLength="59.12" lengthAdjust="spacingAndGlyphs" fill="#000">aspera</text>
<text x="230.02" y="710.2" font-size="19.5" font-style="italic" textLength="18.79" lengthAdjust="spacingAndGlyphs" fill="#000">P.</text>
<text x="254.10" y="710.2" font-size="19.5" font-style="italic" textLength="58.31" lengthAdjust="spacingAndGlyphs" fill="#000">rugosa</text>
<text transform="translate(186.5 724.4) rotate(-90)" font-size="19.5" text-anchor="end">28<tspan font-size="15.5" dy="-7">o</tspan><tspan dy="7">C</tspan></text>
<text transform="translate(215.4 724.4) rotate(-90)" font-size="19.5" text-anchor="end">32<tspan font-size="15.5" dy="-7">o</tspan><tspan dy="7">C</tspan></text>
<text transform="translate(407.40 728.4) rotate(-90)" font-size="17" text-anchor="end">Fv/Fm</text>
<text transform="translate(426.49 728.4) rotate(-90)" font-size="17" text-anchor="end">ETR</text>
<text transform="translate(446.78 728.4) rotate(-90)" font-size="17" text-anchor="end">NPQ</text>
<text transform="translate(468.06 728.4) rotate(-90)" font-size="17" text-anchor="end">Sigma</text>
<text transform="translate(487.56 728.4) rotate(-90)" font-size="17" text-anchor="end">P</text>
<text transform="translate(510.35 728.4) rotate(-90)" font-size="17" text-anchor="end">τPSII</text>
<text transform="translate(528.94 728.4) rotate(-90)" font-size="17" text-anchor="end">τPQ</text>
<text transform="translate(549.23 728.4) rotate(-90)" font-size="17" text-anchor="end">Chla</text>
<text transform="translate(568.81 728.4) rotate(-90)" font-size="17" text-anchor="end">P<tspan font-size="12.2" dy="5.7">gross</tspan></text>
<text transform="translate(592.71 728.4) rotate(-90)" font-size="17" text-anchor="end">Protein</text>
<text transform="translate(613.29 728.4) rotate(-90)" font-size="17" text-anchor="end">Lipid</text>
<text transform="translate(633.88 728.4) rotate(-90)" font-size="17" text-anchor="end">Carbohydrate</text>
<text transform="translate(654.48 728.4) rotate(-90)" font-size="17" text-anchor="end">Volume</text>
<text transform="translate(675.06 728.4) rotate(-90)" font-size="17" text-anchor="end">Density</text>
<defs><linearGradient id="cb" x1="0" x2="1" y1="0" y2="0"><stop offset="0" stop-color="#CB1B20"/><stop offset="0.25" stop-color="#8E1618"/><stop offset="0.45" stop-color="#5E1010"/><stop offset="0.5" stop-color="#000"/><stop offset="0.55" stop-color="#0F2448"/><stop offset="0.75" stop-color="#173A6C"/><stop offset="1" stop-color="#1C4F98"/></linearGradient></defs>
<rect x="241.7" y="770.7" width="139.7" height="35.6" fill="url(#cb)" stroke="#222" stroke-width="1"/>
<text x="241.70" y="836.0" font-size="14" text-anchor="middle">-2</text>
<text x="276.62" y="836.0" font-size="14" text-anchor="middle">-1</text>
<text x="311.55" y="836.0" font-size="14" text-anchor="middle">0</text>
<text x="346.47" y="836.0" font-size="14" text-anchor="middle">1</text>
<text x="381.40" y="836.0" font-size="14" text-anchor="middle">2</text>
<path d="M241.70 806.3V814.9M276.62 806.3V814.9M311.55 806.3V814.9M346.47 806.3V814.9M381.40 806.3V814.9" stroke="#222" stroke-width="1.2"/>
<text x="164.6" y="864.4" font-size="19.2">FC = log<tspan font-size="14" dy="4.5">2</tspan><tspan dy="-4.5">(mean 32</tspan><tspan font-size="15" dy="-7">o</tspan><tspan dy="7">C/mean 28</tspan><tspan font-size="15" dy="-7">o</tspan><tspan dy="7">C)</tspan></text>
<rect x="509.8" y="848.2" width="18.2" height="18.4" fill="#A4A4A8" stroke="#222" stroke-width="1.3"/>
<text x="535.88" y="864.4" font-size="19" textLength="139.96" lengthAdjust="spacingAndGlyphs" fill="#000">= non significant</text>
</svg></body></html>
